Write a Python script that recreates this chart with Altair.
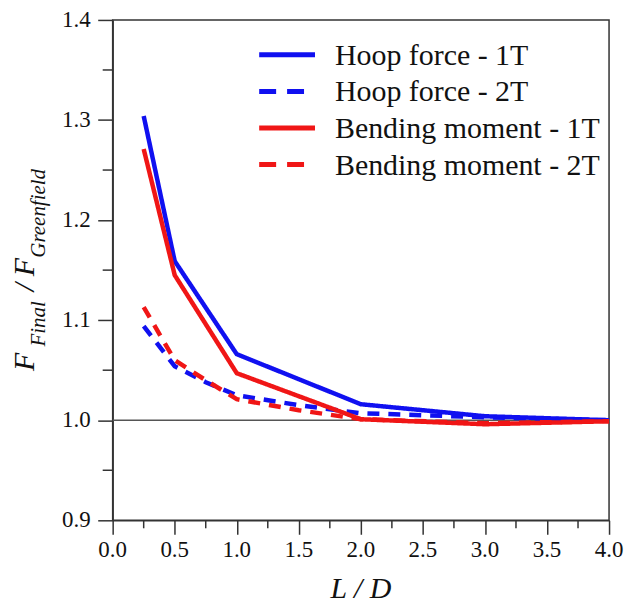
import altair as alt
import pandas as pd

# ---- data ----
series_names = ["Hoop force - 1T", "Hoop force - 2T", "Bending moment - 1T", "Bending moment - 2T"]
series_colors = ["#1010f0", "#1010f0", "#f01616", "#f01616"]
series_dash = [[1, 0], [12, 9], [1, 0], [12, 9]]

x_1T = [0.25, 0.5, 1.0, 2.0, 3.0, 4.0]
hoop_1T = [1.304, 1.159, 1.066, 1.016, 1.004, 1.000]
bend_1T = [1.271, 1.145, 1.047, 1.001, 0.996, 0.999]

x_2T = [0.25, 0.5, 0.75, 1.0, 1.5, 2.0, 3.0, 4.0]
hoop_2T = [1.094, 1.054, 1.038, 1.025, 1.015, 1.007, 1.003, 1.000]
bend_2T = [1.113, 1.060, 1.040, 1.021, 1.010, 1.001, 0.997, 0.999]

x_major = [0.0, 0.5, 1.0, 1.5, 2.0, 2.5, 3.0, 3.5, 4.0]
x_minor = [0.25, 0.75, 1.25, 1.75, 2.25, 2.75, 3.25, 3.75]
y_major = [0.9, 1.0, 1.1, 1.2, 1.3, 1.4]
y_minor = [0.95, 1.05, 1.15, 1.25, 1.35]

rows = []
for name, xs, ys in [
    (series_names[0], x_1T, hoop_1T),
    (series_names[1], x_2T, hoop_2T),
    (series_names[2], x_1T, bend_1T),
    (series_names[3], x_2T, bend_2T),
]:
    for xv, yv in zip(xs, ys):
        rows.append({"series": name, "LD": xv, "ratio": yv})
df = pd.DataFrame(rows)

W, H = 498, 502
FONT = "Liberation Serif"
INK = "#111111"

xscale = alt.Scale(domain=[0, 4], nice=False, zero=False)
yscale = alt.Scale(domain=[0.9, 1.4], nice=False, zero=False)

lines = alt.Chart(df).mark_line(strokeWidth=4.5, strokeCap="butt").encode(
    x=alt.X("LD:Q", scale=xscale,
            axis=alt.Axis(values=x_major, labels=False, title=None, grid=False, tickSize=14)),
    y=alt.Y("ratio:Q", scale=yscale,
            axis=alt.Axis(values=y_major, labels=False, title=None, grid=False, tickSize=15)),
    color=alt.Color("series:N", scale=alt.Scale(domain=series_names, range=series_colors),
                    legend=None),
    strokeDash=alt.StrokeDash("series:N",
                              scale=alt.Scale(domain=series_names, range=series_dash),
                              legend=None),
    detail="series:N",
)

ref_line = alt.Chart(alt.Data(values=[{"v": 1.0}])).mark_rule(color="#555", strokeWidth=1.3).encode(
    y=alt.Y("v:Q", scale=yscale)
)

xminor = alt.Chart(pd.DataFrame({"m": x_minor})).mark_rule(color="#333", strokeWidth=1.5).encode(
    x=alt.X("m:Q", scale=xscale), y=alt.value(H), y2=alt.value(H + 8)
)
yminor = alt.Chart(pd.DataFrame({"m": y_minor})).mark_rule(color="#333", strokeWidth=1.5).encode(
    y=alt.Y("m:Q", scale=yscale), x=alt.value(0), x2=alt.value(-10)
)

# tick labels as text marks, placed through the scales
xlabels = alt.Chart(pd.DataFrame({"v": x_major})).mark_text(
    font=FONT, fontSize=23, color=INK, align="center", baseline="alphabetic"
).encode(x=alt.X("v:Q", scale=xscale), y=alt.value(H + 37), text=alt.Text("v:Q", format=".1f"))

ylabels = alt.Chart(pd.DataFrame({"v": y_major})).mark_text(
    font=FONT, fontSize=23, color=INK, align="right", baseline="middle"
).encode(y=alt.Y("v:Q", scale=yscale), x=alt.value(-22), text=alt.Text("v:Q", format=".1f"))

one = alt.Data(values=[{"k": 0}])


def piece(text, size, xv, yv, angle=270):
    return alt.Chart(one).mark_text(
        angle=angle, align="center", baseline="alphabetic", font=FONT,
        fontStyle="italic", fontSize=size, color=INK
    ).encode(x=alt.value(xv), y=alt.value(yv), text=alt.value(text))


main_base = -79
sub_base = -68
ytitle = [
    piece("F", 30, main_base, 343),
    piece("Final", 21, sub_base, 305),
    piece("/", 30, main_base, 268),
    piece("F", 30, main_base, 248),
    piece("Greenfield", 21, sub_base, 194),
]
xtitle = alt.Chart(one).mark_text(
    align="center", baseline="alphabetic", font=FONT, fontStyle="italic", fontSize=30, color=INK
).encode(x=alt.value(W / 2), y=alt.value(H + 78), text=alt.value("L / D"))

# legend drawn inside the plot, top right
legend_layers = []
for i, name in enumerate(series_names):
    ry = 35 + i * 36.7
    legend_layers.append(
        alt.Chart(one).mark_rule(
            color=series_colors[i], strokeWidth=5,
            strokeDash=[17, 11] if series_dash[i][1] else [1, 0]
        ).encode(x=alt.value(147), x2=alt.value(203), y=alt.value(ry))
    )
    legend_layers.append(
        alt.Chart(one).mark_text(
            align="left", baseline="middle", font=FONT, fontSize=30, color=INK
        ).encode(x=alt.value(223), y=alt.value(ry + 1), text=alt.value(name))
    )

chart = alt.layer(ref_line, xminor, yminor, lines, xlabels, ylabels, xtitle,
                  *ytitle, *legend_layers).properties(
    width=W, height=H, padding={"left": 2, "top": 0, "right": 0, "bottom": 2}
).configure_view(stroke="#333", strokeWidth=1.5).configure_axis(
    domainColor="#333", domainWidth=1.5, tickColor="#333", tickWidth=1.5
)

chart.save("out.html", embed_options={"renderer": "svg", "actions": False})
